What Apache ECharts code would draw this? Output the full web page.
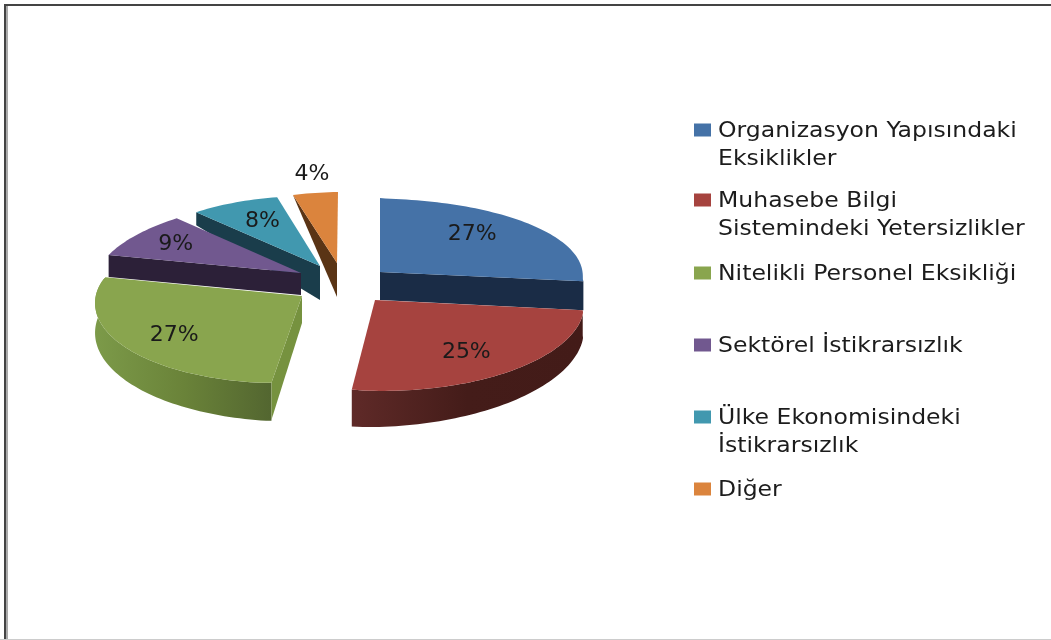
<!DOCTYPE html>
<html><head><meta charset="utf-8">
<style>html,body{margin:0;padding:0;background:#fff}#c{width:1051px;height:640px}</style>
<script src="https://cdn.jsdelivr.net/npm/echarts@6/dist/echarts.min.js"></script>
</head><body><div id="c"></div>
<script>
// --- data ---
const categories = ['Organizasyon Yapısındaki\nEksiklikler','Muhasebe Bilgi\nSistemindeki Yetersizlikler','Nitelikli Personel Eksikliği','Sektörel İstikrarsızlık','Ülke Ekonomisindeki\nİstikrarsızlık','Diğer'];
const values = [27,25,27,9,8,4];
const colors = ['#4572A7','#A6433F','#89A54E','#71588F','#4198AF','#DB843D'];
const wallColors = ['#1A2C46','#4A1E1B','#76923F','#2C2038','#1A3D4B','#5A3415'];

// --- layout of the tilted, exploded pie: per-slice projection of the unit circle ---
const layout = [
 {ax:380,ay:272,rx:205,k:0,  ry:74, s:0,  b:-.025,z:3,edge:'end',  dA:28,dR:29,lx:.60,ly:.765},
 {ax:375,ay:300,rx:209,k:3,  ry:90, s:-1, b:.02, z:6,arc:[25,37],grad:['#5F2A28','#441C19','#431B18'],lx:.70,ly:.745},
 {ax:302,ay:296,rx:204,k:-5, ry:87, s:-3, b:.02, z:5,edge:'start',dA:27,dR:37,arc:[38,28],grad:['#7C9A49','#6A8339','#536630'],lx:.745,ly:.76},
 {ax:301,ay:273,rx:204,k:-21,ry:76, s:-1, b:0,   z:4,edge:'start',dA:22,dR:22,lx:.76,ly:.76},
 {ax:320,ay:266,rx:184,k:-3, ry:70, s:4,  b:0,   z:2,edge:'start',dA:34,dR:13,lx:.67,ly:.70},
 {ax:337,ay:263,rx:181,k:-1, ry:71, s:-3, b:0,   z:1,edge:'start',dA:34,dR:0, lx:1.16,ly:1.27}
];
const legendRows = [130,200,273,345,417,489];
const lineH = 28.5, legendX = 718, markerX = 694, legendStretch = 1.095;

const total = values.reduce((a,b)=>a+b,0);
const FONT = '"DejaVu Sans", sans-serif';

function pt(L,deg,fx,fy,d){
  const t=deg*Math.PI/180,u=Math.sin(t),v=-Math.cos(t);
  fy = fy===undefined?fx:fy;
  return [L.ax+fx*(L.rx*u+L.k*v), L.ay+fy*(L.s*u+L.ry*v)+(d||0)];
}
function arcPts(L,a,b,d0,d1){
  const n=Math.max(8,Math.round((b-a)/1.5)),out=[];
  for(let i=0;i<=n;i++){
    const f=i/n,r=1+L.b*Math.sqrt(Math.sin(Math.PI*f));
    out.push(pt(L,a+(b-a)*f,r,r,(d0||0)+((d1||0)-(d0||0))*f));
  }
  return out;
}
function makeRender(idx){
  return function(params,api){
    const val=api.value(0),L=layout[idx];
    let start=0;for(let i=0;i<idx;i++)start+=values[i]/total*360;
    const end=start+val/total*360,apex=[L.ax,L.ay],kids=[];
    if(L.arc){
      const top=arcPts(L,start,end),bot=arcPts(L,start,end,L.arc[0],L.arc[1]).reverse();
      const g=L.grad;
      kids.push({type:'polygon',shape:{points:top.concat(bot)},z2:1,
        style:{fill:new echarts.graphic.LinearGradient(1,0,0,0,[{offset:0,color:g[2]},{offset:.5,color:g[1]},{offset:1,color:g[0]}])}});
    }
    if(L.edge){
      const rim=pt(L,L.edge==='start'?start:end,1);
      kids.push({type:'polygon',shape:{points:[apex,rim,[rim[0],rim[1]+L.dR],[apex[0],apex[1]+L.dA]]},z2:2,style:{fill:wallColors[idx]}});
    }
    kids.push({type:'polygon',shape:{points:[apex].concat(arcPts(L,start,end))},z2:3,style:{fill:colors[idx]}});
    const p=pt(L,(start+end)/2,L.lx,L.ly);
    kids.push({type:'text',z2:4,style:{text:val+'%',x:p[0],y:p[1],align:'center',verticalAlign:'middle',font:'22px '+FONT,fill:'#1a1a1a'}});
    return {type:'group',children:kids};
  };
}
const series=categories.map((name,i)=>({
  type:'custom',name:name.replace('\n',' '),coordinateSystem:'none',z:layout[i].z,
  data:[[values[i]]],renderItem:makeRender(i),silent:true,animation:false,
  itemStyle:{color:colors[i]}
}));
const legendEls=[];
categories.forEach((name,i)=>{
  const y=legendRows[i];
  legendEls.push({type:'rect',shape:{x:markerX,y:y-6.5,width:17,height:13},style:{fill:colors[i]}});
  name.split('\n').forEach((line,j)=>{
    legendEls.push({type:'text',x:legendX,y:y+1+j*lineH,scaleX:legendStretch,
      style:{text:line,x:0,y:0,verticalAlign:'middle',font:'21.5px '+FONT,fill:'#1c1c1c'}});
  });
});
const frame=[
  {type:'rect',shape:{x:4,y:4,width:1047,height:2},style:{fill:'#444'}},
  {type:'rect',shape:{x:4,y:4,width:2,height:636},style:{fill:'#444'}},
  {type:'rect',shape:{x:6,y:6,width:2,height:634},style:{fill:'#aaa'}},
  {type:'rect',shape:{x:0,y:639,width:1051,height:1},style:{fill:'#ccc'}}
];
const chart=echarts.init(document.getElementById('c'),null,{renderer:'canvas'});
chart.setOption({animation:false,backgroundColor:'#fff',series:series,graphic:{elements:frame.concat(legendEls)}});
</script></body></html>
